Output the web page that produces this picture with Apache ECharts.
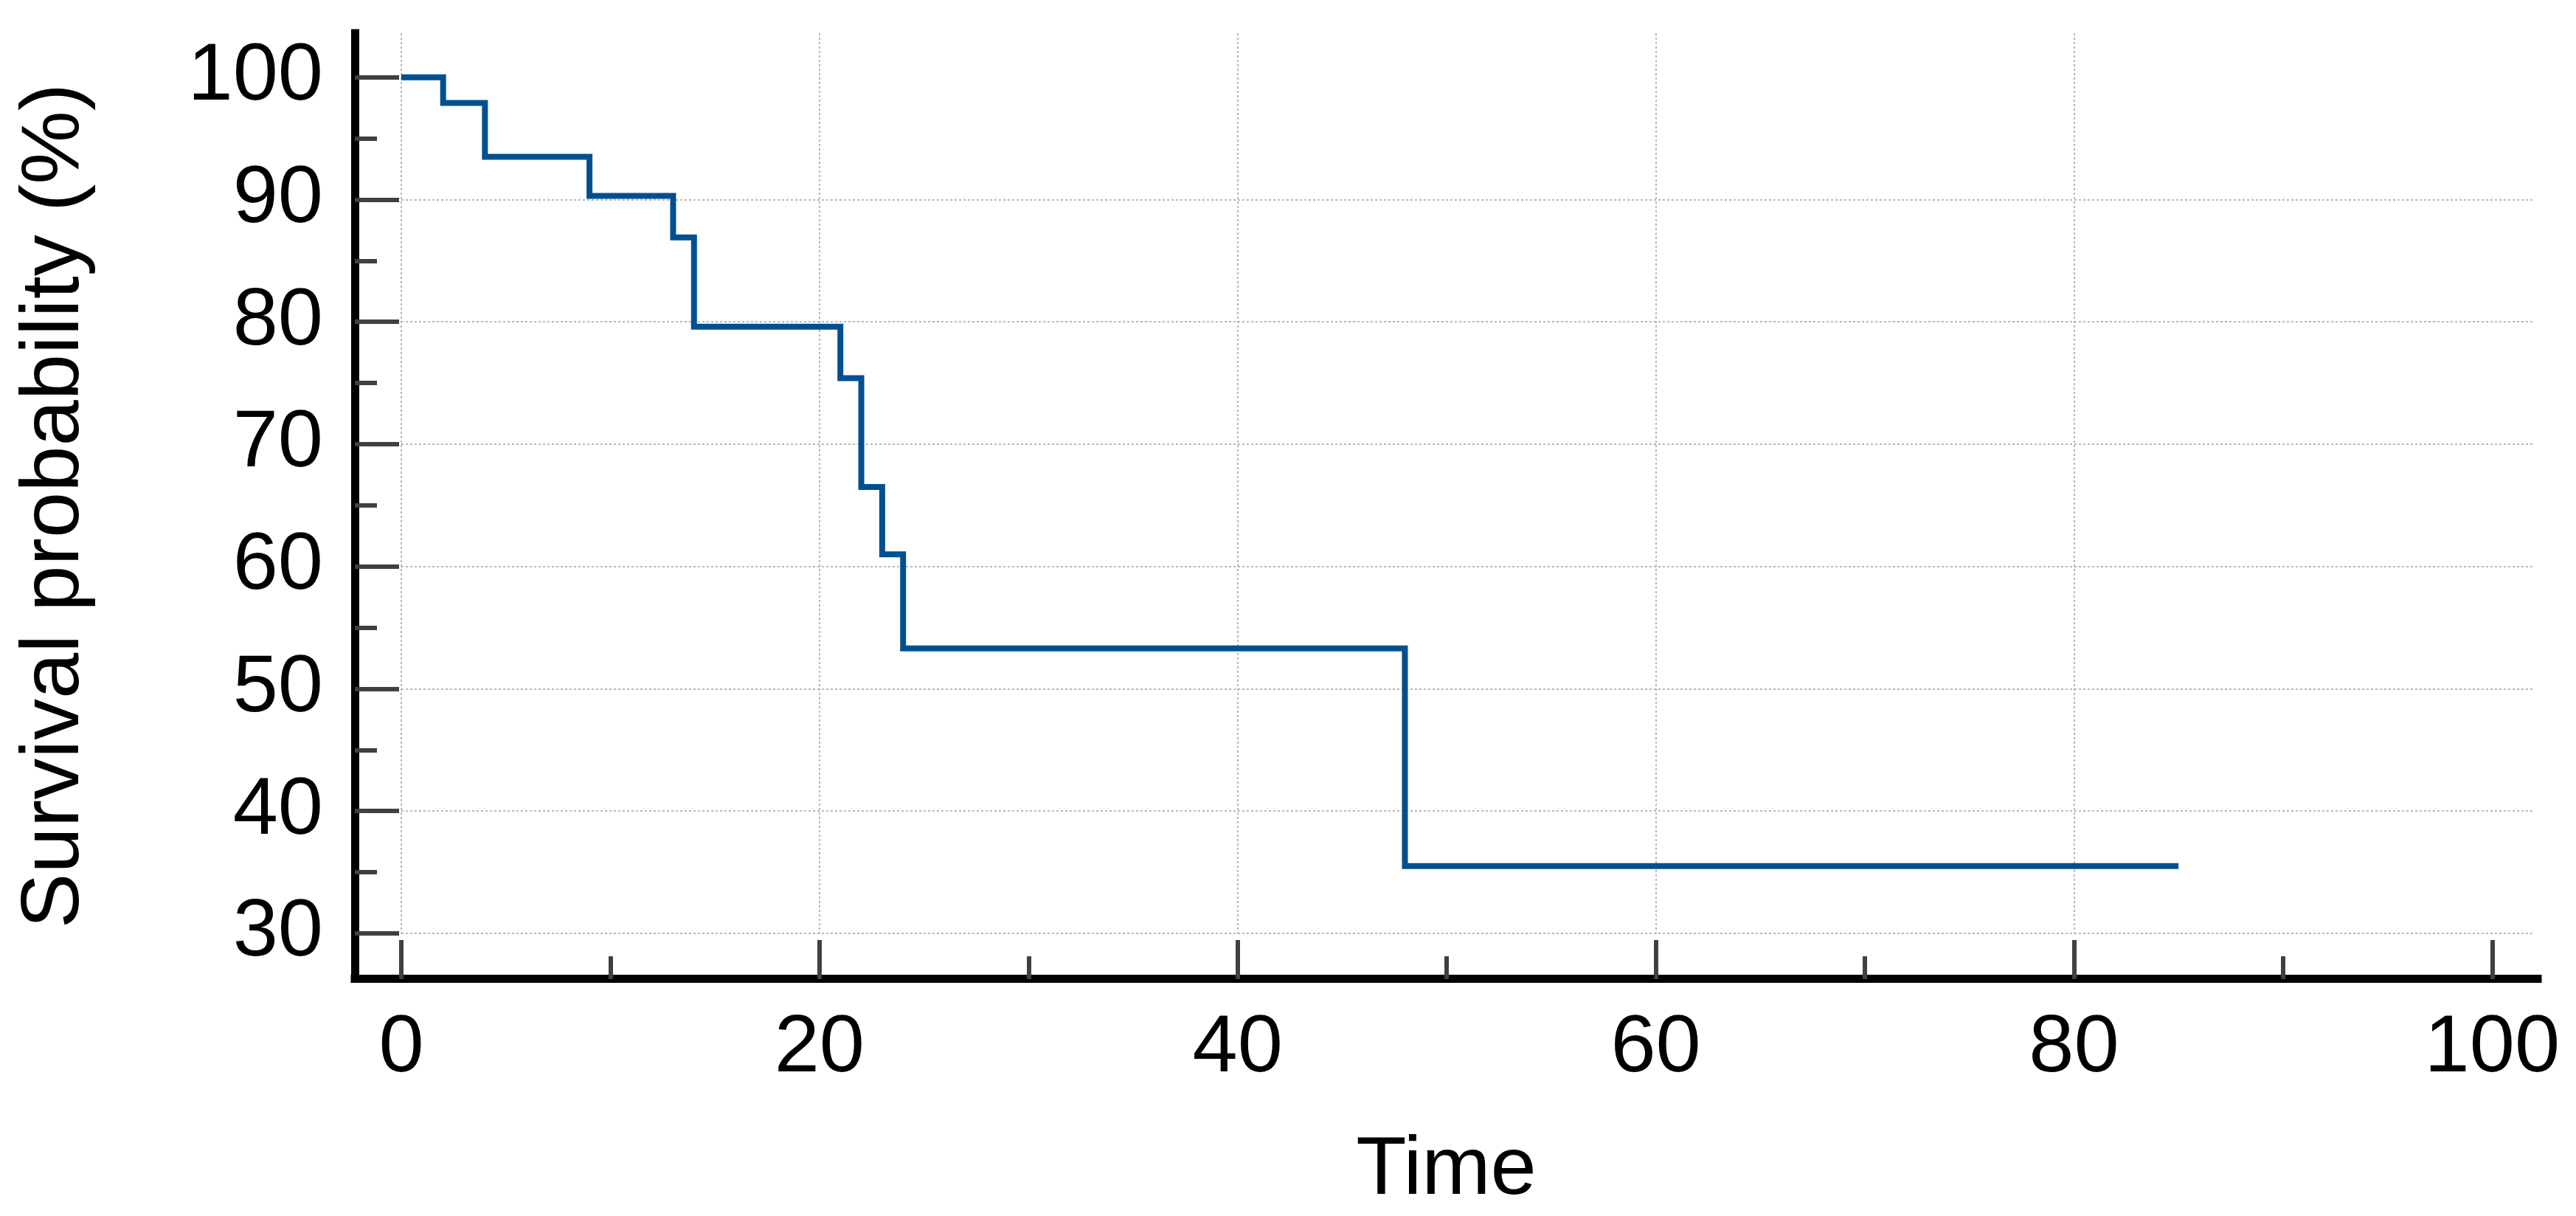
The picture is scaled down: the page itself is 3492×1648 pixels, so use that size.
<!DOCTYPE html>
<html>
<head>
<meta charset="utf-8">
<script src="https://cdn.jsdelivr.net/npm/echarts@6/dist/echarts.min.js"></script>
<style>
html,body{margin:0;padding:0;background:#fff;}
#chart{width:3492px;height:1648px;}
</style>
</head>
<body>
<div id="chart"></div>
<script>
// Kaplan-Meier step data (time, survival %)
const times = [0, 2, 4, 9, 13, 14, 21, 22, 23, 24, 48, 85];
const survival = [100, 97.9, 93.5, 90.3, 86.9, 79.6, 75.4, 66.5, 61.0, 53.3, 35.5, 35.5];

const xMajorTicks = [0, 20, 40, 60, 80, 100];
const xMinorTicks = [10, 30, 50, 70, 90];
const yMajorTicks = [30, 40, 50, 60, 70, 80, 90, 100];
const yMinorTicks = [35, 45, 55, 65, 75, 85, 95];

const xTitle = 'Time';
const yTitle = 'Survival probability (%)';

const FONT = 'Liberation Sans, Arial, sans-serif';
const X_MIN = 0, X_MAX = 102, Y_MIN = 30, Y_MAX = 103.6;

const seriesData = times.map((t, i) => [t, survival[i]]);

const chart = echarts.init(document.getElementById('chart'), null, {renderer: 'canvas'});

const hidden = {show: false};
const gridLineStyle = {color: '#b8b8b8', width: 2, type: [3, 3]};

const option = {
  backgroundColor: '#ffffff',
  animation: false,
  grid: [
    {left: 481, right: 52, top: 45, bottom: 321, containLabel: false},
    {left: 544, right: 57, top: 45, bottom: 383, containLabel: false}
  ],
  xAxis: [
    {
      gridIndex: 0, type: 'value', min: 0, max: 1, position: 'bottom',
      axisLine: {show: true, onZero: false, lineStyle: {color: '#000', width: 11, cap: 'square'}},
      axisTick: hidden, axisLabel: hidden, splitLine: hidden,
      name: xTitle, nameLocation: 'middle', nameGap: 205,
      nameTextStyle: {fontFamily: FONT, fontSize: 112, color: '#000'}
    },
    {
      gridIndex: 1, type: 'value', min: X_MIN, max: X_MAX, interval: 20, position: 'bottom', offset: 62,
      axisLine: {show: false, onZero: false},
      axisTick: {show: true, inside: true, length: 53, customValues: xMajorTicks, lineStyle: {color: '#404040', width: 6}},
      axisLabel: {show: true, customValues: xMajorTicks, margin: 40, fontFamily: FONT, fontSize: 110, color: '#000'},
      splitLine: {show: true, showMinLine: true, showMaxLine: false, lineStyle: gridLineStyle}
    },
    {
      gridIndex: 1, type: 'value', min: X_MIN, max: X_MAX, position: 'bottom', offset: 62,
      axisLine: {show: false, onZero: false},
      axisTick: {show: true, inside: true, length: 31, customValues: xMinorTicks, lineStyle: {color: '#404040', width: 6}},
      axisLabel: hidden, splitLine: hidden
    }
  ],
  yAxis: [
    {
      gridIndex: 0, type: 'value', min: 0, max: 1, position: 'left',
      axisLine: {show: true, onZero: false, lineStyle: {color: '#000', width: 11, cap: 'square'}},
      axisTick: hidden, axisLabel: hidden, splitLine: hidden,
      name: yTitle, nameLocation: 'middle', nameGap: 350, nameRotate: 90,
      nameTextStyle: {fontFamily: FONT, fontSize: 112, color: '#000'}
    },
    {
      gridIndex: 1, type: 'value', min: Y_MIN, max: Y_MAX, interval: 10, position: 'left', offset: 63,
      axisLine: {show: false, onZero: false},
      axisTick: {show: true, inside: true, length: 60, customValues: yMajorTicks, lineStyle: {color: '#404040', width: 6}},
      axisLabel: {show: true, customValues: yMajorTicks, margin: 43, fontFamily: FONT, fontSize: 110, color: '#000'},
      splitLine: {show: true, showMinLine: true, showMaxLine: false, lineStyle: gridLineStyle}
    },
    {
      gridIndex: 1, type: 'value', min: Y_MIN, max: Y_MAX, position: 'left', offset: 63,
      axisLine: {show: false, onZero: false},
      axisTick: {show: true, inside: true, length: 30, customValues: yMinorTicks, lineStyle: {color: '#404040', width: 6}},
      axisLabel: hidden, splitLine: hidden
    }
  ],
  series: [
    {
      type: 'line', xAxisIndex: 1, yAxisIndex: 1, step: 'end',
      data: seriesData, showSymbol: false, symbol: 'none',
      lineStyle: {color: '#00508f', width: 8, join: 'miter', cap: 'butt'},
      clip: false
    }
  ]
};
chart.setOption(option);
</script>
</body>
</html>
